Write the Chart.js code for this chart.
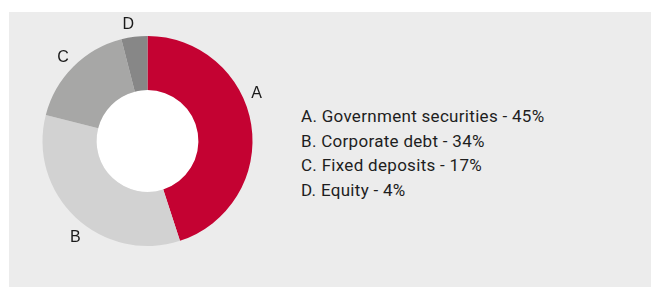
<!DOCTYPE html>
<html>
<head>
<meta charset="utf-8">
<script src="https://cdn.jsdelivr.net/npm/chart.js@4/dist/chart.umd.min.js"></script>
<style>
  html, body { margin: 0; padding: 0; background: #ffffff; }
  #panel { position: absolute; left: 9px; top: 12px; width: 642px; height: 275px; background: #ececec; }
  #chartBox { position: absolute; left: 17px; top: 11px; width: 261px; height: 260px; }
  #legend { position: absolute; left: 301px; top: 104px; font-family: Roboto, "Liberation Sans", sans-serif;
            font-size: 17px; line-height: 24.6px; color: #1e1e1e; letter-spacing: 0.3px; }
</style>
</head>
<body>
<div id="panel"></div>
<div id="chartBox"><canvas id="donut"></canvas></div>
<div id="legend"></div>
<script>
// Datos del gráfico
const letras = ['A', 'B', 'C', 'D'];
const categorias = ['Government securities', 'Corporate debt', 'Fixed deposits', 'Equity'];
const valores = [45, 34, 17, 4];
const colores = ['#c40232', '#d2d2d2', '#a7a7a6', '#878787'];

// Leyenda en HTML (texto real)
const legendDiv = document.getElementById('legend');
categorias.forEach((cat, i) => {
    const linea = document.createElement('div');
    linea.textContent = `${letras[i]}. ${cat} - ${valores[i]}%`;
    legendDiv.appendChild(linea);
});

// Etiquetas A, B, C, D fuera del anillo
const outsideLabels = {
    id: 'outsideLabels',
    afterDatasetsDraw(chart, args, opts) {
        const ctx = chart.ctx;
        const meta = chart.getDatasetMeta(0);
        ctx.save();
        ctx.font = '16px "Liberation Sans", Arial, sans-serif';
        ctx.fillStyle = '#1a1a1a';
        ctx.textAlign = 'center';
        ctx.textBaseline = 'alphabetic';
        meta.data.forEach((arc, i) => {
            const shift = (opts.angleShift[i] || 0) * Math.PI / 180;
            const mid = (arc.startAngle + arc.endAngle) / 2 + shift;
            const r = arc.outerRadius + opts.offset;
            // centrar la altura de las mayúsculas en el punto
            ctx.fillText(letras[i], arc.x + Math.cos(mid) * r, arc.y + Math.sin(mid) * r + 5.8);
        });
        ctx.restore();
    }
};

const ctx = document.getElementById('donut').getContext('2d');
new Chart(ctx, {
    type: 'doughnut',
    data: {
        labels: categorias,
        datasets: [{
            data: valores,
            backgroundColor: colores,
            borderWidth: 0
        }]
    },
    options: {
        responsive: true,
        maintainAspectRatio: false,
        animation: false,
        cutout: '48.5%',
        layout: { padding: 25 },
        plugins: {
            legend: { display: false },
            tooltip: { enabled: false },
            outsideLabels: { offset: 14.5, angleShift: { 0: -15, 1: -6, 3: -2 } }
        }
    },
    plugins: [outsideLabels, {
        id: 'hole',
        beforeDatasetsDraw(chart) {
            const arc = chart.getDatasetMeta(0).data[0];
            const c = chart.ctx;
            c.save();
            c.fillStyle = '#ffffff';
            c.beginPath();
            c.arc(arc.x, arc.y, arc.innerRadius, 0, Math.PI * 2);
            c.fill();
            c.restore();
        }
    }]
});
</script>
</body>
</html>
